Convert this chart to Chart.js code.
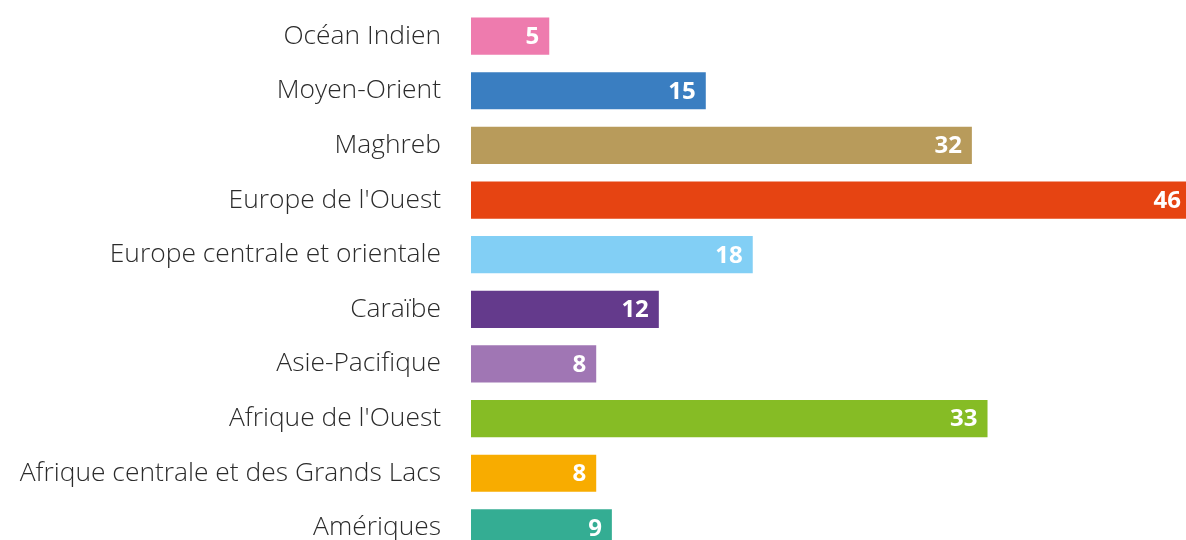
<!DOCTYPE html>
<html lang="fr">
<head>
<meta charset="utf-8">
<title>Régions</title>
<script src="https://cdn.jsdelivr.net/npm/chart.js@4"></script>
<style>
  html, body { margin: 0; padding: 0; background: #fff; overflow: hidden; }
  #wrap { position: absolute; left: 0; top: -37px; width: 1196px; height: 638px; }
</style>
</head>
<body>
<div id="wrap"><canvas id="myChart"></canvas></div>
<script>
// regions and counts, top to bottom
const regions = ['Océan Indien', 'Moyen-Orient', 'Maghreb', "Europe de l'Ouest",
  'Europe centrale et orientale', 'Caraïbe', 'Asie-Pacifique', "Afrique de l'Ouest",
  'Afrique centrale et des Grands Lacs', 'Amériques'];
const counts = [5, 15, 32, 46, 18, 12, 8, 33, 8, 9];
const barColors = ['#EE7BAE', '#3A7EC1', '#B89B5B', '#E64412', '#82CFF5',
  '#643A8C', '#A076B4', '#86BC25', '#F8AC00', '#34AD93'];

// white value labels at the end of each bar
const valueLabels = {
  id: 'valueLabels',
  afterDatasetsDraw(chart) {
    let ctx = chart.ctx;
    let meta = chart.getDatasetMeta(0);
    ctx.save();
    ctx.font = 'bold 24px "Open Sans"';
    ctx.fillStyle = '#fff';
    ctx.textAlign = 'right';
    ctx.textBaseline = 'middle';
    meta.data.forEach((bar, i) => {
      ctx.fillText(String(counts[i]), bar.x - 10, bar.y + 1);
    });
    ctx.restore();
  }
};

const ctx = document.getElementById('myChart').getContext('2d');
const myChart = new Chart(ctx, {
  type: 'bar',
  data: {
    labels: regions,
    datasets: [{
      data: counts,
      backgroundColor: barColors,
      borderWidth: 0,
      categoryPercentage: 1,
      barPercentage: 0.68
    }]
  },
  options: {
    indexAxis: 'y',
    responsive: true,
    maintainAspectRatio: false,
    animation: false,
    layout: { padding: { top: 0, bottom: 0, left: 0, right: 5 } },
    plugins: { legend: { display: false }, tooltip: { enabled: false } },
    scales: {
      x: { display: false, min: 0, max: 46 },
      y: {
        grid: { display: false, drawTicks: false },
        border: { display: false },
        afterFit(scale) { scale.width = 471; },
        ticks: {
          color: '#2b2b2b',
          padding: 30,
          font: { family: '"Open Sans"', size: 26.4, weight: 300 }
        }
      }
    }
  },
  plugins: [valueLabels]
});
</script>
</body>
</html>
